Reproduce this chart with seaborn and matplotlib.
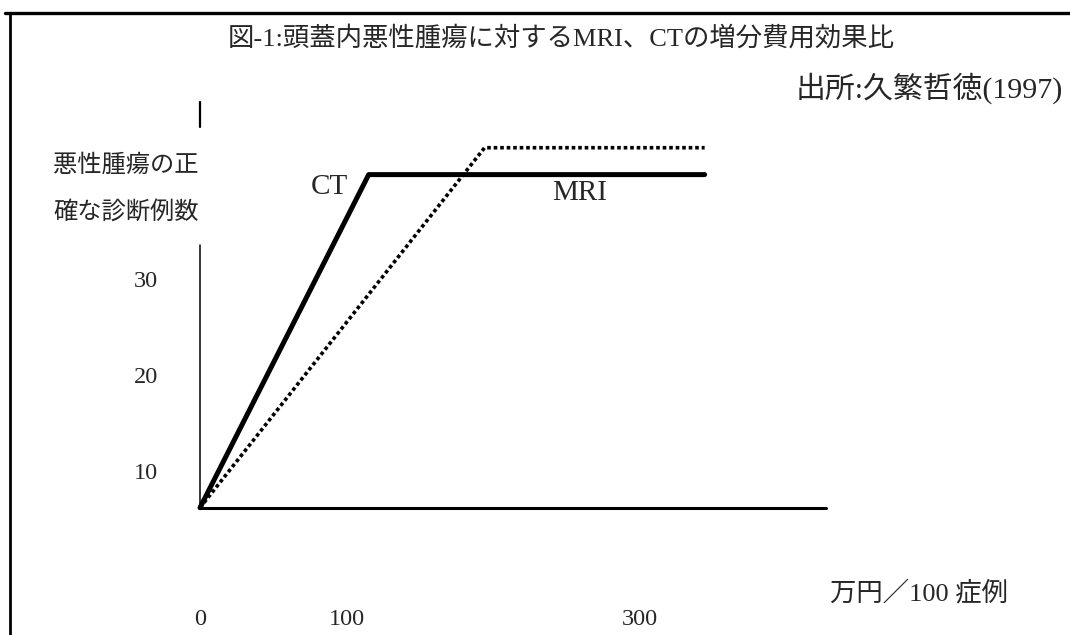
import seaborn as sns
import pandas as pd
import matplotlib.pyplot as plt

# data
ct_x = [0, 115, 344]
ct_y = [6.8, 41.5, 41.5]
mri_x = [0, 194, 344]
mri_y = [6.8, 44.3, 44.3]

x_ticks = [0, 100, 300]
x_tick_labels = ["0", "100", "300"]
y_ticks = [10, 20, 30]
y_tick_labels = ["10", "20", "30"]

title = "図-1:頭蓋内悪性腫瘍に対するMRI、CTの増分費用効果比"
source = "出所:久繁哲徳(1997)"
y_label = ["悪性腫瘍の正", "確な診断例数"]
x_label = "万円／100 症例"

df = pd.concat([
    pd.DataFrame({"cost": ct_x, "cases": ct_y, "method": "CT"}),
    pd.DataFrame({"cost": mri_x, "cases": mri_y, "method": "MRI"}),
])

sns.set_theme(style="white")
jp = ["Noto Sans CJK JP", "DejaVu Sans"]
mix = ["Liberation Serif", "Noto Sans CJK JP"]
serif = ["Liberation Serif"]

fig = plt.figure(figsize=(10.7, 6.35), dpi=100)
ax = fig.add_axes([0, 0, 1, 1])

# page is mapped so 0 sits at px 200 and the y ticks sit where the scan has them
ax.set_xlim(-200 / 1.467, 870 / 1.467)
ax.set_ylim(10 - 158 / 9.6, 10 + 477 / 9.6)
ax.axis("off")

sns.lineplot(data=df[df.method == "CT"], x="cost", y="cases", color="black",
             linewidth=3.6, ax=ax, legend=False, sort=False)
sns.lineplot(data=df[df.method == "MRI"], x="cost", y="cases", color="black",
             linewidth=2.6, ax=ax, legend=False, sort=False)
ax.lines[-1].set_linestyle((0, (1, 0.8)))
ax.lines[-1].set_dash_capstyle("butt")

# axes drawn by hand like in the scan
ax.plot([0, 427], [6.8, 6.8], color="black", linewidth=2.2)
ax.plot([0, 0], [6.8, 34.2], color="black", linewidth=1.1)
ax.plot([0, 0], [46.5, 49.1], color="black", linewidth=1.6)

for v, lab in zip(y_ticks, y_tick_labels):
    ax.text(-37, v + 0.4, lab, family=serif, fontsize=17.5, ha="center", va="center")
for v, lab in zip(x_ticks, x_tick_labels):
    ax.text(v, -4.8, lab, family=serif, fontsize=17.5, ha="center", va="center")

ax.text(88, 40.2, "CT", family=serif, fontsize=21, ha="center", va="center")
ax.text(259, 39.6, "MRI", family=serif, fontsize=21, ha="center", va="center",
        zorder=1)

fig.text(0.05, 1 - 165 / 635, y_label[0], family=jp, fontsize=17.5, va="center")
fig.text(0.05, 1 - 212 / 635, y_label[1], family=jp, fontsize=17.5, va="center")
fig.text(0.776, 1 - 593 / 635, x_label, family=mix, fontsize=19, va="center")

fig.text(0.213, 1 - 38 / 635, title, family=mix, fontsize=19, va="center")
fig.text(0.993, 1 - 88 / 635, source, family=mix, fontsize=21.5, va="center",
         ha="right")

# frame of the scanned page
fig.add_artist(plt.Line2D([0.005, 1], [1 - 13 / 635] * 2, color="black",
                          linewidth=2.4))
fig.add_artist(plt.Line2D([0.0095, 0.0095], [0, 1 - 13 / 635], color="black",
                          linewidth=2.0))

fig.savefig("out.png", dpi=100)
